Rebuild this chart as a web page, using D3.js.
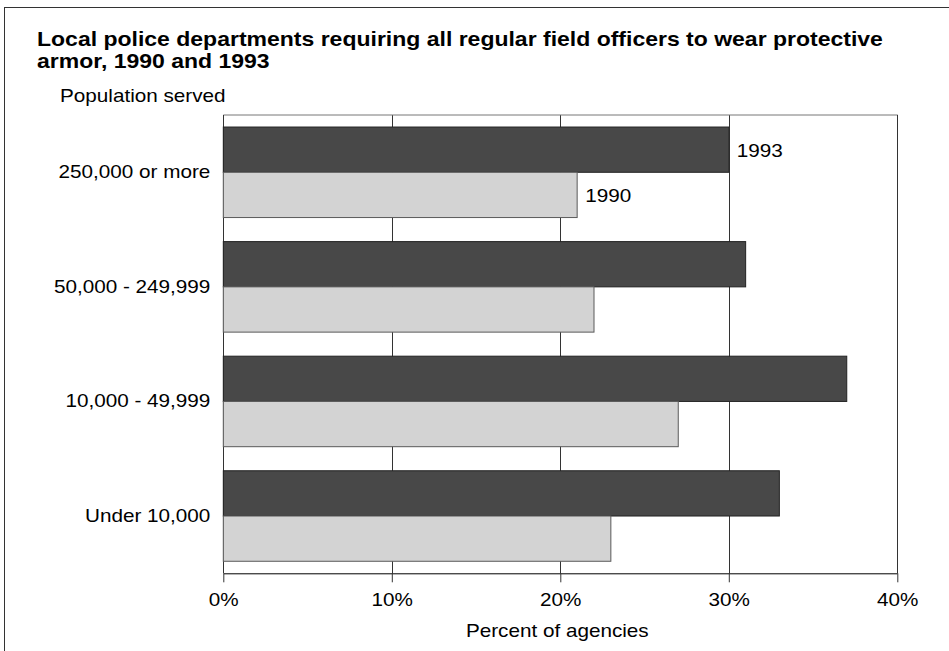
<!DOCTYPE html>
<html>
<head>
<meta charset="utf-8">
<script src="https://cdn.jsdelivr.net/npm/d3@7"></script>
<style>
  html, body { margin: 0; padding: 0; background: #fff; }
  svg { display: block; font-family: "Liberation Sans", Arial, sans-serif; }
</style>
</head>
<body>
<svg id="chart" width="949" height="651"></svg>
<script>
// Population-size groups, top to bottom
const categories = ["250,000 or more", "50,000 - 249,999", "10,000 - 49,999", "Under 10,000"];
// Series shown within each group, top bar first
const seriesNames = ["1993", "1990"];
// Percent of agencies requiring armor
const values1993 = [30, 31, 37, 33];
const values1990 = [21, 22, 27, 23];
// Axis ticks (percent)
const tickValues = [0, 10, 20, 30, 40];

const svg = d3.select("#chart");
const W = 949, H = 651;
const plot = { left: 223.3, right: 897.3, top: 115, bottom: 573.3 };
const SX = 1.15; // horizontal stretch of the lettering

const seriesValues = { "1993": values1993, "1990": values1990 };
const fills = { "1993": "#484848", "1990": "#d3d3d3" };
const strokes = { "1993": "#222", "1990": "#5a5a5a" };

// Place a text at (x, y) with the wide lettering
function wideText(parent, x, y) {
  return parent.append("text")
    .attr("transform", `translate(${x},${y}) scale(${SX},1)`)
    .attr("fill", "#000");
}

// Outer frame (left and top edges visible)
svg.append("rect")
  .attr("x", 4.5).attr("y", 7.5)
  .attr("width", W + 20).attr("height", H + 20)
  .attr("fill", "none").attr("stroke", "#333").attr("stroke-width", 1);

// Title
wideText(svg, 37, 46).attr("font-size", 20).attr("font-weight", "bold")
  .text("Local police departments requiring all regular field officers to wear protective");
wideText(svg, 37, 68).attr("font-size", 20).attr("font-weight", "bold")
  .text("armor, 1990 and 1993");

wideText(svg, 60, 102).attr("font-size", 18).text("Population served");

// Scales
const x = d3.scaleLinear().domain([0, 40]).range([plot.left, plot.right]);
const y = d3.scaleBand().domain(categories)
  .range([plot.top, plot.bottom])
  .paddingInner(0.21).paddingOuter(0.105);
const ySub = d3.scaleBand().domain(seriesNames).range([0, y.bandwidth()]);

// Vertical gridlines
svg.append("g").selectAll("line")
  .data(tickValues.filter(t => t > 0 && t < 40))
  .join("line")
  .attr("x1", d => Math.round(x(d)) + 0.5).attr("x2", d => Math.round(x(d)) + 0.5)
  .attr("y1", plot.top).attr("y2", plot.bottom)
  .attr("stroke", "#333").attr("stroke-width", 1);

// Plot frame: top, left, right
svg.append("line")
  .attr("x1", plot.left).attr("x2", plot.right + 0.5)
  .attr("y1", plot.top).attr("y2", plot.top)
  .attr("stroke", "#777").attr("stroke-width", 1);
svg.append("line")
  .attr("x1", Math.round(plot.left) + 0.5).attr("x2", Math.round(plot.left) + 0.5)
  .attr("y1", plot.top).attr("y2", plot.bottom)
  .attr("stroke", "#333");
svg.append("line")
  .attr("x1", Math.round(plot.right) + 0.5).attr("x2", Math.round(plot.right) + 0.5)
  .attr("y1", plot.top).attr("y2", plot.bottom)
  .attr("stroke", "#333");

// Bars
const groups = svg.append("g").selectAll("g")
  .data(categories)
  .join("g")
  .attr("transform", d => `translate(0,${y(d)})`);

groups.selectAll("rect")
  .data((c, i) => seriesNames.map(s => ({ s, v: seriesValues[s][i] })))
  .join("rect")
  .attr("x", x(0))
  .attr("y", d => ySub(d.s))
  .attr("width", d => x(d.v) - x(0))
  .attr("height", ySub.bandwidth())
  .attr("fill", d => fills[d.s])
  .attr("stroke", d => strokes[d.s])
  .attr("stroke-width", 1);

// Series labels beside the first group's bars
seriesNames.forEach(s => {
  const v = seriesValues[s][0];
  wideText(svg, x(v) + 8, y(categories[0]) + ySub(s) + ySub.bandwidth() / 2 + 1)
    .attr("dominant-baseline", "central")
    .attr("font-size", 18)
    .text(s);
});

// Category labels
const yAxis = svg.append("g")
  .attr("transform", `translate(${plot.left},0)`)
  .call(d3.axisLeft(y).tickSize(0).tickPadding(13));
yAxis.select(".domain").remove();
yAxis.selectAll("text")
  .attr("font-size", 18).attr("fill", "#000")
  .attr("font-family", "'Liberation Sans', Arial, sans-serif")
  .attr("x", -13 / SX)
  .attr("transform", `scale(${SX},1)`);

// Bottom axis
const xAxis = svg.append("g")
  .attr("transform", `translate(0,${plot.bottom})`)
  .call(d3.axisBottom(x).tickValues(tickValues).tickFormat(d => d + "%")
    .tickSize(9).tickSizeOuter(0).tickPadding(11));
xAxis.select(".domain").attr("stroke", "#000");
xAxis.selectAll(".tick line").attr("stroke", "#333");
xAxis.selectAll("text")
  .attr("font-size", 18).attr("fill", "#000")
  .attr("font-family", "'Liberation Sans', Arial, sans-serif")
  .attr("transform", `scale(${SX},1)`);

wideText(svg, (plot.left + plot.right) / 2 - 3, 637)
  .attr("text-anchor", "middle")
  .attr("font-size", 18)
  .text("Percent of agencies");
</script>
</body>
</html>
